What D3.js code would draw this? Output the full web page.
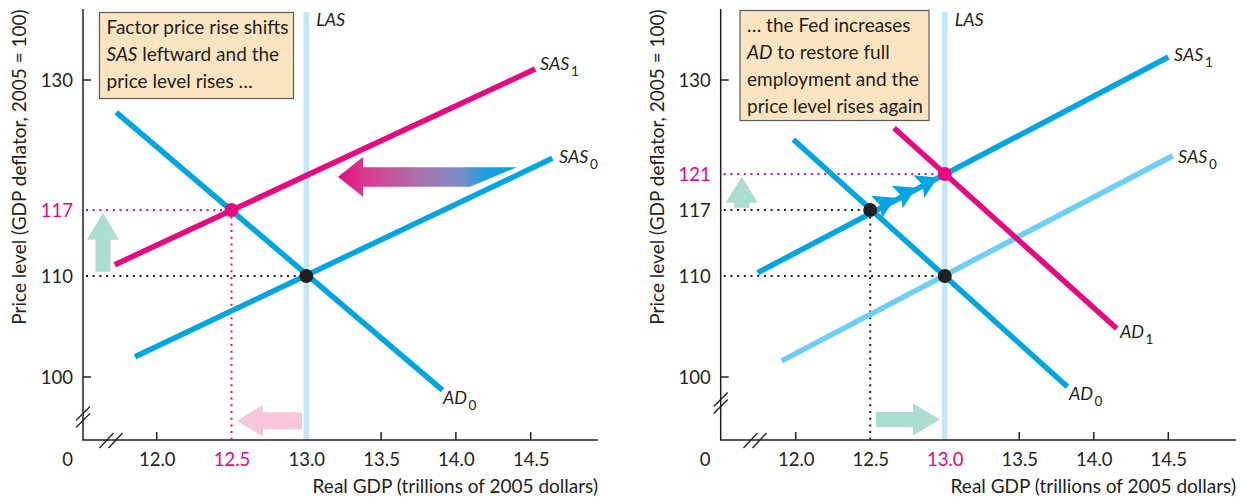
<!DOCTYPE html>
<html>
<head>
<meta charset="utf-8">
<script src="https://cdn.jsdelivr.net/npm/d3@7"></script>
<style>
  html, body { margin: 0; padding: 0; background: #ffffff; }
  svg { display: block; font-family: Lato, "Open Sans", sans-serif; }
</style>
</head>
<body>
<svg id="chart" width="1241" height="501"></svg>
<script>
// ---------------- data ----------------
const xTickValues = [12.0, 12.5, 13.0, 13.5, 14.0, 14.5];
const yTicksLeft = [100, 110, 117, 130];
const yTicksRight = [100, 110, 117, 121, 130];
const potentialGDP = 13.0;

// left panel curves: [real GDP, price level]
const leftAD0 = [[11.73, 126.9], [13.91, 98.7]];
const leftSAS0 = [[11.855, 102.0], [14.645, 122.5]];
const leftSAS1 = [[11.72, 111.2], [14.53, 131.05]];
const leftEquilibria = [[13.0, 110, "black"], [12.5, 117, "magenta"]];

// right panel curves
const rightAD0 = [[11.984, 124.3], [13.823, 99.04]];
const rightAD1 = [[12.66, 125.4], [14.154, 104.8]];
const rightSAS0 = [[11.906, 101.6], [14.53, 122.75]];
const rightSAS1 = [[11.745, 110.35], [14.5, 132.2]];
const rightEquilibria = [[13.0, 110, "black"], [12.5, 117, "black"], [13.0, 121, "magenta"]];

const leftNote = [["Factor price rise shifts"], ["SAS", " leftward and the"], ["price level rises \u2026"]];
const rightNote = [["\u2026 the Fed increases"], ["AD", " to restore full"], ["employment and the"], ["price level rises again"]];

// ---------------- styles ----------------
const C = {
  blue: "#00a6e2", lightBlue: "#6dcff6", las: "#c4e7f8", magenta: "#e6097f",
  ink: "#231f20", green: "#addcd0", pink: "#f6c7da", box: "#fde4c1"
};
const TXT = 19, TICK = 18.5, LBL = 18;

const svg = d3.select("#chart");
const defs = svg.append("defs");
const grad = defs.append("linearGradient").attr("id", "shiftGrad")
  .attr("x1", "0").attr("x2", "1").attr("y1", "0").attr("y2", "0");
[[0, "#e6097f"], [0.15, "#d83a90"], [0.45, "#aa72ac"], [0.68, "#7d8cc7"], [0.82, "#1f9edc"], [1, "#00a0e0"]]
  .forEach(([o, c]) => grad.append("stop").attr("offset", o).attr("stop-color", c));

const yScale = d3.scaleLinear().domain([100, 110, 117, 121, 130]).range([377, 276, 210, 174, 80]);

function panel(cfg) {
  const x = d3.scaleLinear().domain([12, 14.5]).range(cfg.xRange);
  const y = yScale;
  const g = svg.append("g");
  const ax0 = cfg.axisX, axY = 440, top = 9, right = cfg.axisRight;

  // LAS
  g.append("line").attr("x1", x(potentialGDP)).attr("x2", x(potentialGDP))
    .attr("y1", top + 3).attr("y2", axY).attr("stroke", C.las).attr("stroke-width", 5.5);
  g.append("text").attr("x", x(potentialGDP) + 10).attr("y", 26)
    .attr("font-size", LBL).attr("font-style", "italic").attr("fill", C.ink).text("LAS");

  // axes
  g.append("line").attr("x1", ax0).attr("x2", ax0).attr("y1", top).attr("y2", axY)
    .attr("stroke", C.ink).attr("stroke-width", 1.5);
  g.append("line").attr("x1", ax0 - 0.75).attr("x2", right).attr("y1", axY).attr("y2", axY)
    .attr("stroke", C.ink).attr("stroke-width", 1.5);

  // x ticks
  const xAxis = d3.axisBottom(x).tickValues(xTickValues).tickSize(0).tickFormat(d3.format(".1f"));
  const xg = g.append("g").attr("transform", `translate(0,${axY})`).call(xAxis);
  xg.select(".domain").remove();
  xg.selectAll("text").attr("font-size", TICK).attr("font-family", "Lato, sans-serif")
    .attr("dy", null).attr("y", 26)
    .attr("fill", d => d === cfg.xHighlight ? C.magenta : C.ink);
  xTickValues.filter(d => cfg.xTickMarks.includes(d)).forEach(d => {
    g.append("line").attr("x1", x(d)).attr("x2", x(d)).attr("y1", axY).attr("y2", axY - 8)
      .attr("stroke", C.ink).attr("stroke-width", 1.5);
  });

  // y ticks
  const yAxis = d3.axisLeft(y).tickValues(cfg.yTicks).tickSize(0).tickFormat(d3.format("d"));
  const yg = g.append("g").attr("transform", `translate(${ax0},0)`).call(yAxis);
  yg.select(".domain").remove();
  yg.selectAll("text").attr("font-size", TICK).attr("font-family", "Lato, sans-serif")
    .attr("x", -10).attr("dy", "0.36em")
    .attr("fill", d => d === cfg.yHighlight ? C.magenta : C.ink);
  [130, 100].forEach(d => {
    g.append("line").attr("x1", ax0).attr("x2", ax0 + 8).attr("y1", y(d)).attr("y2", y(d))
      .attr("stroke", C.ink).attr("stroke-width", 1.5);
  });
  g.append("text").attr("x", cfg.zeroX).attr("y", 466).attr("text-anchor", "middle")
    .attr("font-size", TICK).attr("fill", C.ink).text("0");

  // axis breaks
  [-3.5, 3.5].forEach(o => {
    g.append("line").attr("x1", ax0 - 7).attr("y1", cfg.yBreak + o + 7).attr("x2", ax0 + 7).attr("y2", cfg.yBreak + o - 7)
      .attr("stroke", C.ink).attr("stroke-width", 1.3);
  });
  [-4.5, 4.5].forEach(o => {
    g.append("line").attr("x1", cfg.xBreak + o - 7).attr("y1", axY + 8).attr("x2", cfg.xBreak + o + 7).attr("y2", axY - 7)
      .attr("stroke", C.ink).attr("stroke-width", 1.3);
  });

  // axis titles
  g.append("text").attr("x", right).attr("y", 493).attr("text-anchor", "end")
    .attr("font-size", TXT).attr("fill", C.ink).text("Real GDP (trillions of 2005 dollars)");
  g.append("text").attr("transform", `translate(${cfg.yTitleX},167) rotate(-90)`)
    .attr("text-anchor", "middle").attr("font-size", TXT).attr("fill", C.ink)
    .text("Price level (GDP deflator, 2005 = 100)");

  // note box
  const nb = cfg.note;
  g.append("rect").attr("x", nb.x).attr("y", nb.y).attr("width", nb.w).attr("height", nb.h)
    .attr("fill", C.box).attr("stroke", "#5a5a5a").attr("stroke-width", 1.2);
  nb.lines.forEach((parts, i) => {
    const t = g.append("text").attr("x", nb.x + 7).attr("y", nb.y + 21 + i * 27)
      .attr("font-size", TXT).attr("fill", C.ink);
    parts.forEach((p, j) => {
      t.append("tspan").attr("font-style", parts.length > 1 && j === 0 ? "italic" : "normal").text(p);
    });
  });

  return { g, x, y, axY, ax0 };
}

function curve(P, pts, color, label, sub, lx, ly) {
  const line = d3.line().x(d => P.x(d[0])).y(d => P.y(d[1]));
  P.g.append("path").attr("d", line(pts)).attr("stroke", color).attr("stroke-width", 5.5)
    .attr("fill", "none");
  const t = P.g.append("text").attr("x", lx).attr("y", ly).attr("font-size", LBL).attr("fill", C.ink);
  t.append("tspan").attr("font-style", "italic").text(label);
  t.append("tspan").attr("font-size", 13.5).attr("dy", 6).attr("dx", 1.5).text(sub);
}

function guides(P, xv, yv, color) {
  const col = color === "magenta" ? C.magenta : C.ink;
  P.g.append("line").attr("x1", P.ax0 + 3).attr("x2", P.x(xv)).attr("y1", P.y(yv)).attr("y2", P.y(yv))
    .attr("stroke", col).attr("stroke-width", 2).attr("stroke-dasharray", "2,4.7");
  if (xv !== potentialGDP) {
    P.g.append("line").attr("x1", P.x(xv)).attr("x2", P.x(xv)).attr("y1", P.y(yv)).attr("y2", P.axY)
      .attr("stroke", col).attr("stroke-width", 2).attr("stroke-dasharray", "2,4.7");
  }
}

function dots(P, list) {
  list.forEach(([xv, yv, c]) => {
    P.g.append("circle").attr("cx", P.x(xv)).attr("cy", P.y(yv)).attr("r", 7)
      .attr("fill", c === "magenta" ? C.magenta : C.ink);
  });
}

// block arrow: tip position in px, direction "up"|"left"|"right"
function blockArrow(g, tx, ty, dir, len, headLen, headHalf, shaftHalf, fill) {
  let pts = [[0, 0], [headLen, -headHalf], [headLen, -shaftHalf], [len, -shaftHalf],
             [len, shaftHalf], [headLen, shaftHalf], [headLen, headHalf]];
  const rot = { left: p => [p[0], p[1]], right: p => [-p[0], p[1]], up: p => [p[1], p[0]] }[dir];
  pts = pts.map(rot).map(p => [tx + p[0], ty + p[1]]);
  g.append("polygon").attr("points", pts.map(p => p.join(",")).join(" ")).attr("fill", fill);
}

// ---------------- left panel ----------------
const L = panel({
  xRange: [156.7, 530.7], axisX: 83, axisRight: 598, yTicks: yTicksLeft,
  xHighlight: 12.5, yHighlight: 117, xTickMarks: [12.0, 13.5, 14.0, 14.5],
  zeroX: 67.5, yBreak: 417, xBreak: 111, yTitleX: 25.5,
  note: { x: 99.5, y: 12.5, w: 194, h: 86, lines: leftNote }
});
guides(L, 13.0, 110, "black");
guides(L, 12.5, 117, "magenta");
curve(L, leftSAS0, C.blue, "SAS", "0", 559, 163);
curve(L, leftAD0, C.blue, "AD", "0", 443, 404);
curve(L, leftSAS1, C.magenta, "SAS", "1", 540, 70);
dots(L, leftEquilibria);
// shift arrow with gradient
(function () {
  const tx = L.x(13.212), ty = L.y(120.7);
  const rel = [[0, 0], [25, -19.7], [25, -9.4], [178.7, -9.4], [132, 10], [25, 10], [25, 20]];
  L.g.append("polygon").attr("points", rel.map(p => [tx + p[0], ty + p[1]].join(",")).join(" "))
    .attr("fill", "url(#shiftGrad)");
})();
blockArrow(L.g, L.x(11.641), L.y(116.7), "up", 59, 27, 16, 7.5, C.green);
blockArrow(L.g, L.x(12.537), L.y(95.67), "left", 65, 26, 16, 8.5, C.pink);

// ---------------- right panel ----------------
const R = panel({
  xRange: [795.7, 1168.3], axisX: 720.7, axisRight: 1236, yTicks: yTicksRight,
  xHighlight: 13.0, yHighlight: 121, xTickMarks: [12.0, 13.5, 14.0, 14.5],
  zeroX: 705, yBreak: 403, xBreak: 755, yTitleX: 663.5,
  note: { x: 740, y: 10.5, w: 189, h: 110, lines: rightNote }
});
guides(R, 13.0, 110, "black");
guides(R, 12.5, 117, "black");
guides(R, 13.0, 121, "magenta");
curve(R, rightSAS0, C.lightBlue, "SAS", "0", 1178, 163);
curve(R, rightAD0, C.blue, "AD", "0", 1069, 400);
curve(R, rightSAS1, C.blue, "SAS", "1", 1174, 61);
curve(R, rightAD1, C.magenta, "AD", "1", 1120, 338);
// movement arrowheads along SAS1 from (12.5,117) to (13.0,121)
(function () {
  const x0 = R.x(12.5), y0 = R.y(117), x1 = R.x(13.0), y1 = R.y(121);
  const dx = x1 - x0, dy = y1 - y0, L0 = Math.hypot(dx, dy), ux = dx / L0, uy = dy / L0;
  [28, 51, 75].forEach(dist => {
    const tx = x0 + ux * dist, ty = y0 + uy * dist;
    const bx = tx - ux * 21, by = ty - uy * 21;
    const nx = tx - ux * 17, ny = ty - uy * 17;
    const px = -uy * 12.5, py = ux * 12.5;
    R.g.append("polygon").attr("points",
      [[tx, ty], [bx + px, by + py], [nx, ny], [bx - px, by - py]].map(p => p.join(",")).join(" "))
      .attr("fill", C.blue);
  });
})();
dots(R, rightEquilibria);
blockArrow(R.g, R.x(11.638), R.y(120.7), "up", 31, 26, 16, 7.5, C.green);
blockArrow(R.g, R.x(12.968), R.y(95.8), "right", 64, 27, 16, 7.5, C.green);
</script>
</body>
</html>
